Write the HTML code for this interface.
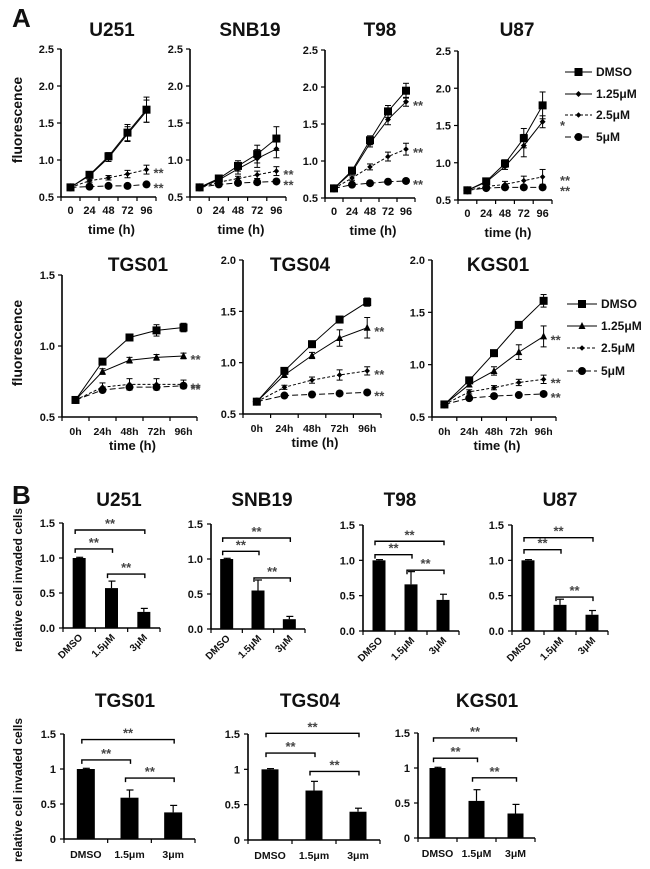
<!DOCTYPE html>
<html><head><meta charset="utf-8"><style>
html,body{margin:0;padding:0;background:#fff;}
svg{display:block;font-family:"Liberation Sans",sans-serif;}
</style></head><body>
<svg id="fig" width="650" height="869" viewBox="0 0 650 869" xmlns="http://www.w3.org/2000/svg"></svg>
<script>
// ---------- Panel A data (fluorescence vs time) ----------
const timeLabelsNum = ["0","24","48","72","96"];
const timeLabelsH = ["0h","24h","48h","72h","96h"];
const seriesNames = ["DMSO","1.25μM","2.5μM","5μM"];
const lineDMSO = [[0.63,0.80,1.05,1.37,1.68],[0.63,0.75,0.92,1.08,1.29],[0.63,0.87,1.28,1.67,1.95],[0.63,0.75,0.99,1.33,1.77],[0.62,0.89,1.06,1.11,1.13],[0.62,0.92,1.18,1.42,1.59],[0.62,0.85,1.11,1.38,1.61]];
const line125 = [[0.63,0.79,1.03,1.35,1.66],[0.63,0.73,0.88,1.02,1.15],[0.63,0.85,1.24,1.56,1.80],[0.63,0.74,0.95,1.23,1.55],[0.62,0.82,0.90,0.92,0.93],[0.62,0.88,1.07,1.24,1.34],[0.62,0.81,0.94,1.12,1.27]];
const line25 = [[0.63,0.72,0.76,0.81,0.87],[0.63,0.70,0.75,0.80,0.85],[0.63,0.77,0.92,1.06,1.16],[0.63,0.68,0.71,0.76,0.81],[0.62,0.71,0.73,0.73,0.73],[0.62,0.76,0.83,0.88,0.92],[0.62,0.74,0.78,0.83,0.86]];
const line5 = [[0.63,0.64,0.65,0.65,0.67],[0.63,0.67,0.69,0.70,0.71],[0.63,0.68,0.70,0.72,0.73],[0.63,0.66,0.67,0.67,0.67],[0.62,0.69,0.71,0.71,0.72],[0.62,0.68,0.69,0.70,0.71],[0.62,0.68,0.70,0.71,0.72]];
const errDMSO = [[0.02,0.03,0.05,0.11,0.17],[0.02,0.03,0.07,0.12,0.16],[0.02,0.03,0.06,0.08,0.10],[0.02,0.03,0.05,0.13,0.18],[0.01,0.02,0.02,0.04,0.03],[0.01,0.02,0.02,0.03,0.04],[0.01,0.02,0.02,0.03,0.06]];
const err125 = [[0.02,0.03,0.05,0.1,0.15],[0.02,0.03,0.07,0.12,0.12],[0.02,0.03,0.05,0.07,0.06],[0.02,0.03,0.04,0.15,0.08],[0.01,0.02,0.02,0.02,0.02],[0.01,0.02,0.03,0.08,0.10],[0.01,0.02,0.04,0.07,0.10]];
const err25 = [[0.02,0.02,0.03,0.05,0.06],[0.02,0.02,0.03,0.05,0.06],[0.02,0.03,0.04,0.06,0.08],[0.02,0.02,0.04,0.06,0.10],[0.01,0.03,0.04,0.04,0.03],[0.01,0.02,0.03,0.05,0.04],[0.01,0.02,0.02,0.03,0.04]];
const starsA = [["","","**","**"],["","","**","**"],["","**","**","**"],["","*","**","**"],["","**","**","**"],["","**","**","**"],["","**","**","**"]];
const titlesA = ["U251","SNB19","T98","U87","TGS01","TGS04","KGS01"];

// ---------- Panel B data (invasion bars) ----------
const titlesB = ["U251","SNB19","T98","U87","TGS01","TGS04","KGS01"];
const barValues = [[1.0,0.57,0.23],[1.0,0.55,0.14],[1.0,0.66,0.44],[1.0,0.37,0.23],[1.0,0.59,0.38],[1.0,0.70,0.40],[1.0,0.53,0.35]];
const barErrors = [[0.01,0.1,0.05],[0.01,0.15,0.04],[0.01,0.18,0.08],[0.01,0.08,0.06],[0.01,0.11,0.10],[0.01,0.13,0.05],[0.01,0.16,0.13]];
const bracketTop = [1.40,1.30,1.27,1.32,1.42,1.51,1.43];
const bracket12 = [1.13,1.11,1.08,1.15,1.13,1.23,1.14];
const bracket23 = [0.77,0.73,0.86,0.48,0.87,0.97,0.86];
const catLabelsM = ["DMSO","1.5μM","3μM"];
const catLabelsm = ["DMSO","1.5μm","3μm"];

const NS="http://www.w3.org/2000/svg";
const svg=document.getElementById('fig');
function el(tag,attrs,parent){const e=document.createElementNS(NS,tag);for(const k in attrs)e.setAttribute(k,attrs[k]);(parent||svg).appendChild(e);return e;}
function txt(x,y,s,size,anchor,parent,extra){const t=el('text',Object.assign({x:x,y:y,'font-size':size,'font-weight':'bold','text-anchor':anchor||'middle',fill:'#111'},extra||{}),parent);t.textContent=s;return t;}

let L=txt(12,27,"A",26,"start");


L=txt(12,504,"B",26,"start");



const linePanels=[
 {a:61,e:156,yt:49,yb:197,vmin:0.5,vmax:2.5,step:0.5,tx:112,ty:36,row:1},
 {a:190,e:286,yt:49,yb:197,vmin:0.5,vmax:2.5,step:0.5,tx:250,ty:36,row:1},
 {a:325,e:415,yt:50,yb:198,vmin:0.5,vmax:2.5,step:0.5,tx:380,ty:36,row:1},
 {a:458,e:552,yt:51,yb:200,vmin:0.5,vmax:2.5,step:0.5,tx:517,ty:36,row:1},
 {a:62,e:197,yt:275,yb:417,vmin:0.5,vmax:1.5,step:0.5,tx:138,ty:271,row:2},
 {a:243,e:381,yt:260,yb:414,vmin:0.5,vmax:2.0,step:0.5,tx:300,ty:271,row:2},
 {a:432,e:556,yt:260,yb:417,vmin:0.5,vmax:2.0,step:0.5,tx:498,ty:271,row:2}
];
const dashes=["none","none","3,2","6,3"];

function marker(g,kind,x,y,row){
  if(kind===0) return el('rect',{x:x-4,y:y-4,width:8,height:8,fill:'#000'},g);
  if(kind===1){
    if(row===2) return el('polygon',{points:`${x},${y-4} ${x+3.5},${y+3} ${x-3.5},${y+3}`,fill:'#000'},g);
    return el('polygon',{points:`${x},${y-3} ${x+3},${y} ${x},${y+3} ${x-3},${y}`,fill:'#000'},g);
  }
  if(kind===2) return el('polygon',{points:`${x},${y-2.8} ${x+2.8},${y} ${x},${y+2.8} ${x-2.8},${y}`,fill:'#000'},g);
  return el('circle',{cx:x,cy:y,r:4,fill:'#000'},g);
}

linePanels.forEach((p,pi)=>{
  const g=el('g',{});
  
  
  const w=(p.e-p.a)/5;
  const xs=i=>p.a+(i+0.5)*w;
  const ys=v=>p.yb-(v-p.vmin)/(p.vmax-p.vmin)*(p.yb-p.yt);
  const t=txt(p.tx,p.ty,titlesA[pi],19,'middle',g);
  
  
  el('line',{x1:p.a,y1:p.yt,x2:p.a,y2:p.yb,stroke:'#000','stroke-width':1.6},g);
  el('line',{x1:p.a,y1:p.yb,x2:p.e,y2:p.yb,stroke:'#000','stroke-width':1.6},g);
  for(let v=p.vmin;v<=p.vmax+1e-9;v+=p.step){
    el('line',{x1:p.a-4,y1:ys(v),x2:p.a,y2:ys(v),stroke:'#000','stroke-width':1.2},g);
    const tl=txt(p.a-7,ys(v)+4,v.toFixed(1),11,'end',g);
    
    
  }
  const labs=p.row===1?timeLabelsNum:timeLabelsH;
  for(let i=0;i<=5;i++) el('line',{x1:p.a+i*w,y1:p.yb,x2:p.a+i*w,y2:p.yb+4,stroke:'#000','stroke-width':1.2},g);
  labs.forEach((s,i)=>{
    const xl=txt(xs(i),p.yb+(p.row===1?17:18),s,p.row===1?11:10.5,'middle',g);
    
    
  });
  const xt=txt((p.a+p.e)/2+3,p.yb+(p.row===1?37:33),"time (h)",13,'middle',g);
  
  
  const sets=[lineDMSO[pi],line125[pi],line25[pi],line5[pi]];
  const errs=[errDMSO[pi],err125[pi],err25[pi],null];
  sets.forEach((vals,si)=>{
    const pts=vals.map((v,i)=>xs(i)+','+ys(v)).join(' ');
    const pl=el('polyline',{points:pts,fill:'none',stroke:'#000','stroke-width':1,'stroke-dasharray':dashes[si]},g);
    
    
    vals.forEach((v,i)=>{
      if(errs[si]){const e=errs[si][i];
        el('line',{x1:xs(i),y1:ys(v+e),x2:xs(i),y2:ys(v-e),stroke:'#000','stroke-width':1},g);
        el('line',{x1:xs(i)-3,y1:ys(v+e),x2:xs(i)+3,y2:ys(v+e),stroke:'#000','stroke-width':1},g);
        el('line',{x1:xs(i)-3,y1:ys(v-e),x2:xs(i)+3,y2:ys(v-e),stroke:'#000','stroke-width':1},g);}
      const m=marker(g,si,xs(i),ys(v),p.row);
      
      
    });
    const st=starsA[pi][si];
    if(st){const sx=pi===3?p.e+8:xs(4)+7;
      const s=txt(sx,ys(vals[4])+8,st,13,'start',g,{fill:'#444'});
      
      }
  });
});

[[22,120],[22,343]].forEach(([x,y])=>{
  const t=txt(x,y,"fluorescence",14,'middle',null,{transform:`rotate(-90 ${x} ${y})`});
  
  
});

function legend(x1,x2,ys,row){
  const g=el('g',{});
  
  
  seriesNames.forEach((n,i)=>{
    const e=el('g',{},g);
    
    
    el('line',{x1:x1,y1:ys[i],x2:x2,y2:ys[i],stroke:'#000','stroke-width':1,'stroke-dasharray':dashes[i]},e);
    marker(e,i,(x1+x2)/2,ys[i],row);
    txt(x2+4,ys[i]+4,n,12,'start',e);
  });
}
legend(565,592,[72,94,115,137],1);
legend(567,597,[304,326,348,371],2);

const barPanels=[
 {a:63,e:160,yt:523,yb:628,bw:13,tx:119,ty:506,row:1},
 {a:211,e:305,yt:524,yb:629,bw:13,tx:262,ty:506,row:1},
 {a:363,e:459,yt:525,yb:631,bw:13,tx:400,ty:506,row:1},
 {a:512,e:608,yt:525,yb:631,bw:13,tx:560,ty:506,row:1},
 {a:64,e:195,yt:734,yb:839,bw:18,tx:125,ty:707,row:2},
 {a:248,e:380,yt:734,yb:840,bw:17,tx:310,ty:707,row:2},
 {a:418,e:535,yt:733,yb:838,bw:16,tx:487,ty:707,row:2}
];
barPanels.forEach((p,pi)=>{
  const g=el('g',{});
  
  
  const w=(p.e-p.a)/3;
  const xs=i=>p.a+(i+0.5)*w;
  const ys=v=>p.yb-v/1.5*(p.yb-p.yt);
  const t=txt(p.tx,p.ty,titlesB[pi],19,'middle',g);
  
  
  el('line',{x1:p.a,y1:p.yt,x2:p.a,y2:p.yb,stroke:'#000','stroke-width':1.6},g);
  el('line',{x1:p.a,y1:p.yb,x2:p.e,y2:p.yb,stroke:'#000','stroke-width':1.6},g);
  [0,0.5,1,1.5].forEach(v=>{
    el('line',{x1:p.a-4,y1:ys(v),x2:p.a,y2:ys(v),stroke:'#000','stroke-width':1.2},g);
    const tl=txt(p.a-8,ys(v)+4,p.row===1?v.toFixed(1):String(v),11,'end',g);
    
    
  });
  for(let i=0;i<=3;i++) el('line',{x1:p.a+i*w,y1:p.yb,x2:p.a+i*w,y2:p.yb+4,stroke:'#000','stroke-width':1.2},g);
  const labs=pi===6?catLabelsM:(p.row===2?catLabelsm:catLabelsM);
  barValues[pi].forEach((v,i)=>{
    const e=barErrors[pi][i];
    el('line',{x1:xs(i),y1:ys(v),x2:xs(i),y2:ys(v+e),stroke:'#000','stroke-width':1.2},g);
    el('line',{x1:xs(i)-3,y1:ys(v+e),x2:xs(i)+4,y2:ys(v+e),stroke:'#000','stroke-width':1.2},g);
    const b=el('rect',{x:xs(i)-p.bw/2,y:ys(v),width:p.bw,height:ys(0)-ys(v),fill:'#000'},g);
    
    
    let lt;
    if(p.row===1){const lx=xs(i)+4,ly=p.yb+10;
      lt=txt(lx,ly,labs[i],10,'end',g,{transform:`rotate(-45 ${lx} ${ly})`});}
    else lt=txt(xs(i),p.yb+19,labs[i],10.5,'middle',g);
    
    
  });
  const br=[[0,2,bracketTop[pi]],[0,1,bracket12[pi]],[1,2,bracket23[pi]]];
  br.forEach(([i,j,v])=>{
    const y=ys(v),x1=xs(i)-4,x2=xs(j)+1;
    const bg=el('g',{},g);
    
    
    el('polyline',{points:`${x1},${y+4} ${x1},${y} ${x2},${y} ${x2},${y+4}`,fill:'none',stroke:'#000','stroke-width':1.4},bg);
    txt((x1+x2)/2,y-2,"**",13,'middle',bg,{fill:'#444'});
  });
});
[[22,580],[22,790]].forEach(([x,y])=>{
  const t=txt(x,y,"relative cell invaded cells",12,'middle',null,{transform:`rotate(-90 ${x} ${y})`});
  
  
});
</script>
</body></html>
